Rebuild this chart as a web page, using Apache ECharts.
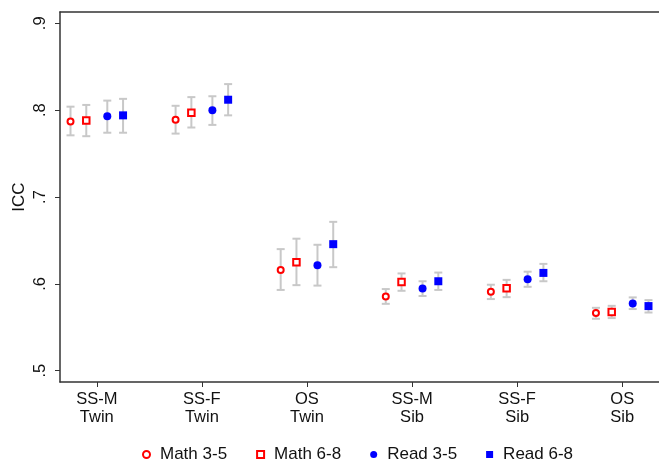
<!DOCTYPE html>
<html>
<head>
<meta charset="utf-8">
<script src="https://cdn.jsdelivr.net/npm/echarts@6/dist/echarts.min.js"></script>
<style>html,body{margin:0;padding:0;background:#fff;}#c{width:659px;height:462px;}</style>
</head>
<body>
<div id="c"></div>
<script>
var categories = ['SS-M\nTwin', 'SS-F\nTwin', 'OS\nTwin', 'SS-M\nSib', 'SS-F\nSib', 'OS\nSib'];
var yTicks = [0.5, 0.6, 0.7, 0.8, 0.9];
var yTickLabels = ['.5', '.6', '.7', '.8', '.9'];
var seriesNames = ['Math 3-5', 'Math 6-8', 'Read 3-5', 'Read 6-8'];

var math35   = [0.787, 0.789, 0.616, 0.5855, 0.591, 0.5663];
var math35Lo = [0.771, 0.773, 0.593, 0.577, 0.5825, 0.5598];
var math35Hi = [0.804, 0.805, 0.640, 0.594, 0.599, 0.5724];

var math68   = [0.788, 0.797, 0.625, 0.602, 0.595, 0.5675];
var math68Lo = [0.770, 0.780, 0.5985, 0.592, 0.5847, 0.5606];
var math68Hi = [0.806, 0.815, 0.652, 0.612, 0.6046, 0.5747];

var read35   = [0.793, 0.800, 0.6215, 0.5947, 0.6054, 0.5775];
var read35Lo = [0.774, 0.783, 0.598, 0.586, 0.5966, 0.571];
var read35Hi = [0.811, 0.816, 0.645, 0.603, 0.614, 0.5844];

var read68   = [0.794, 0.812, 0.6457, 0.603, 0.6126, 0.5744];
var read68Lo = [0.774, 0.794, 0.6192, 0.593, 0.603, 0.567];
var read68Hi = [0.813, 0.830, 0.6714, 0.613, 0.623, 0.5813];

var values = [math35, math68, read35, read68];
var lows = [math35Lo, math68Lo, read35Lo, read68Lo];
var highs = [math35Hi, math68Hi, read35Hi, read68Hi];
var dodge = [-0.25, -0.1, 0.1, 0.25];

var symbols = ['emptyCircle', 'emptyRect', 'circle', 'rect'];
var sizes = [6, 6.5, 8, 8];
var colors = ['#ff0000', '#ff0000', '#0000ff', '#0000ff'];

var FONT = 'Liberation Sans, Arial, sans-serif';
var chart = echarts.init(document.getElementById('c'));

var series = [];
for (var s = 0; s < 4; s++) {
  var errData = [];
  var ptData = [];
  for (var i = 0; i < categories.length; i++) {
    var x = i + 1 + dodge[s];
    errData.push([x, lows[s][i], highs[s][i]]);
    ptData.push([x, values[s][i]]);
  }
  series.push({
    type: 'custom',
    name: 'err' + s,
    data: errData,
    z: 1,
    silent: true,
    renderItem: function (params, api) {
      var x = api.value(0);
      var lo = api.coord([x, api.value(1)]);
      var hi = api.coord([x, api.value(2)]);
      var cw = 4;
      var st = { stroke: '#c8c8c8', lineWidth: 2 };
      return {
        type: 'group',
        children: [
          { type: 'line', shape: { x1: lo[0], y1: lo[1], x2: hi[0], y2: hi[1] }, style: st },
          { type: 'line', shape: { x1: lo[0] - cw, y1: lo[1], x2: lo[0] + cw, y2: lo[1] }, style: st },
          { type: 'line', shape: { x1: hi[0] - cw, y1: hi[1], x2: hi[0] + cw, y2: hi[1] }, style: st }
        ]
      };
    }
  });
  series.push({
    type: 'scatter',
    name: seriesNames[s],
    data: ptData,
    symbol: symbols[s],
    symbolSize: sizes[s],
    z: 3,
    itemStyle: { color: colors[s], borderColor: colors[s], borderWidth: s < 2 ? 1.7 : 0, opacity: 1 }
  });
}

chart.setOption({
  animation: false,
  backgroundColor: '#ffffff',
  grid: { left: 60, top: 12, width: 600, height: 370, containLabel: false },
  legend: {
    data: seriesNames,
    left: 137,
    top: 441,
    itemWidth: 7,
    itemHeight: 7,
    itemGap: 29,
    textStyle: { fontFamily: FONT, fontSize: 17, color: '#111', padding: [0, 0, 0, 5] }
  },
  xAxis: [{
    type: 'value',
    min: 0.65,
    max: 6.35,
    splitLine: { show: false },
    axisLine: { show: true, lineStyle: { color: '#333', width: 1.5 } },
    axisTick: { show: true, length: 5, lineStyle: { color: '#333', width: 1 }, customValues: [1, 2, 3, 4, 5, 6] },
    axisLabel: {
      customValues: [1, 2, 3, 4, 5, 6],
      formatter: function (v) { return categories[Math.round(v) - 1]; },
      fontFamily: FONT, fontSize: 16.5, color: '#111', lineHeight: 18, margin: 8
    }
  }, {
    type: 'value',
    position: 'top',
    min: 0, max: 1,
    splitLine: { show: false },
    axisLine: { show: true, lineStyle: { color: '#333', width: 1.5 } },
    axisTick: { show: false },
    axisLabel: { show: false }
  }],
  yAxis: {
    type: 'value',
    min: 0.487,
    max: 0.913,
    name: 'ICC',
    nameLocation: 'middle',
    nameRotate: 90,
    nameGap: 32,
    nameMoveOverlap: false,
    nameTextStyle: { fontFamily: FONT, fontSize: 17, color: '#111' },
    splitLine: { show: false },
    axisLine: { show: true, lineStyle: { color: '#333', width: 1.5 } },
    axisTick: { show: true, length: 5, lineStyle: { color: '#333', width: 1 }, customValues: yTicks },
    axisLabel: {
      customValues: yTicks,
      rotate: 90,
      formatter: function (v) {
        for (var k = 0; k < yTicks.length; k++) { if (Math.abs(yTicks[k] - v) < 1e-6) return yTickLabels[k]; }
        return '';
      },
      fontFamily: FONT, fontSize: 16.5, color: '#111', margin: 11
    }
  },
  series: series
});
</script>
</body>
</html>
